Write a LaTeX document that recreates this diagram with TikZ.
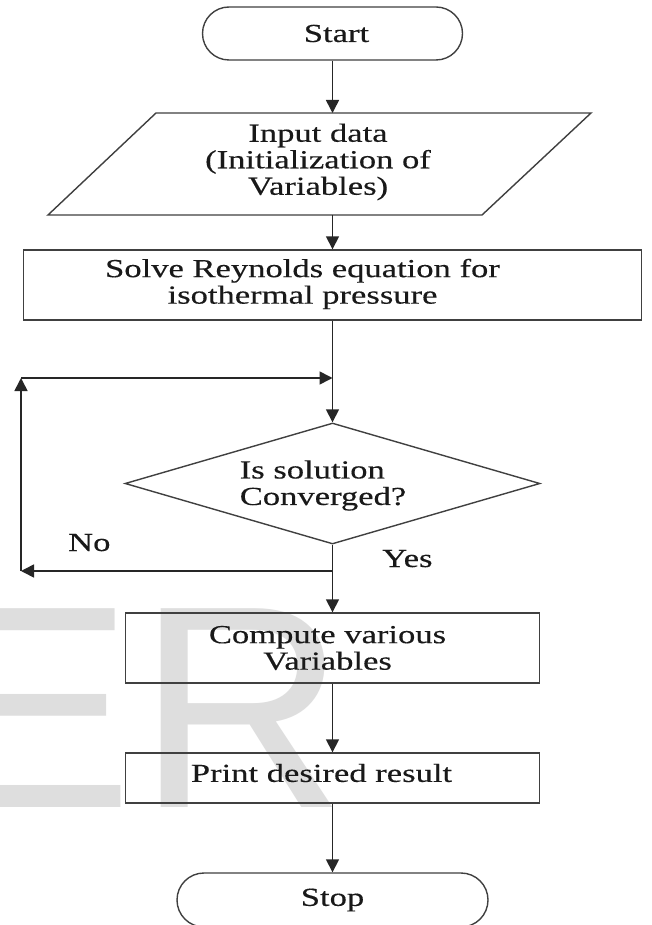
\documentclass[tikz,border=0pt]{standalone}
\usepackage{fontspec}
\usetikzlibrary{arrows.meta,shapes.geometric,shapes.misc}
\newfontfamily\txfont[FakeStretch=1.33,FakeBold=0.3]{Liberation Serif}
\newfontfamily\wmfont{Liberation Sans}
\tikzset{
  line/.style={draw=black!85, line width=1.6pt},
  arr/.style={line, -{Triangle[length=13pt,width=13pt]}},
  boxst/.style={draw=black!75, line width=1.4pt, rectangle, inner sep=0pt},
  term/.style={draw=black!75, line width=1.4pt, rounded rectangle, inner sep=0pt},
  decst/.style={draw=black!75, line width=1.4pt, diamond, inner sep=0pt},
  txt/.style={font=\txfont\fontsize{26}{26.5}\selectfont, text=black!90, align=center, inner sep=0pt},
  wm/.style={font=\wmfont\fontsize{289}{289}\selectfont, text=black!13, inner sep=0pt, anchor=base west},
  lbl/.style={font=\txfont\fontsize{26}{26.5}\selectfont, text=black!90, inner sep=0pt, anchor=base west}
}
\begin{document}
\begin{tikzpicture}[x=1pt,y=-1pt]
\useasboundingbox (0,0) rectangle (651,925);
\fill[white] (0,0) rectangle (651,925);
% watermark
\node[wm] (wmE) at (-60,807) {E};
\node[wm] (wmR) at (137,807) {R};

% nodes
\node[term, minimum width=260pt, minimum height=53pt,
      label={[txt, name=startt, xshift=4pt]center:Start}] (start) at (332.5,33.5) {};

\node[txt] (para) at (318,162) {Input data\\(Initialization of\\Variables)};
\draw[boxst] (156,113) -- (591,113) -- (482,215) -- (48,215) -- cycle;
\coordinate (paratop) at (332.5,113);
\coordinate (parabot) at (332.5,215);

\node[boxst, minimum width=618pt, minimum height=70pt,
      label={[txt, name=solvet, xshift=-30pt, yshift=1pt]center:Solve Reynolds equation for\\isothermal pressure}]
      (solve) at (332.5,285) {};

\node[decst, minimum width=415pt, minimum height=121pt,
      label={[txt, name=dect, align=left, xshift=-9.5pt, yshift=-2pt]center:Is solution\\Converged?}]
      (dec) at (332.5,483.5) {};

\node[boxst, minimum width=414pt, minimum height=70pt,
      label={[txt, name=compt, xshift=-5pt]center:Compute various\\Variables}]
      (comp) at (332.5,648) {};

\node[boxst, minimum width=414pt, minimum height=50pt,
      label={[txt, name=printt, xshift=-11pt, yshift=5pt]center:Print desired result}]
      (print) at (332.5,778) {};

\node[term, txt, minimum width=311pt, minimum height=54pt] (stop) at (332.5,900) {Stop};

% loop coordinates
\coordinate (junc) at (332.5,571);
\coordinate (cbl) at (21,571);
\coordinate (ctl) at (21,378);
\coordinate (merge) at (332.5,378);

% connectors
\draw[arr] (start) -- (paratop);
\draw[arr] (parabot) -- (solve);
\draw[arr] (solve) -- (dec);
\draw[arr] (dec) -- (comp);
\draw[arr] (comp) -- (print);
\draw[arr] (print) -- (stop);
\draw[arr] (junc) -- (cbl);
\draw[arr] (cbl) -- (ctl);
\draw[arr] (ctl) -- (merge);

% labels
\node[lbl] (no) at (68,551) {No};
\node[lbl] (yes) at (382,567) {Yes};
\end{tikzpicture}
\end{document}
